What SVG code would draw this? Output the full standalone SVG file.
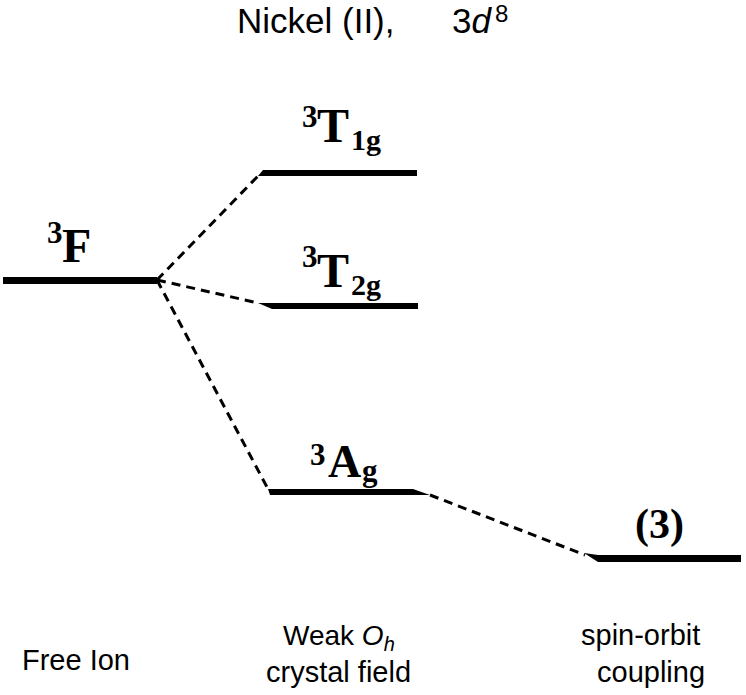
<svg xmlns="http://www.w3.org/2000/svg" width="746" height="695" viewBox="0 0 746 695">
<style>
.lvl{fill:#000;stroke:none}
.dash{stroke:#000;stroke-width:3;stroke-dasharray:9 6;fill:none}
.sans{font-family:"Liberation Sans",Arial,sans-serif;fill:#000}
.term{font-family:"Liberation Serif","Times New Roman",serif;font-weight:bold;fill:#000}
</style>
<rect width="746" height="695" fill="#fff"/>
<g id="title">
<text class="sans" x="237" y="33" font-size="35">Nickel (II),</text>
<text class="sans" x="452" y="33" font-size="35">3<tspan font-style="italic">d</tspan></text>
<text class="sans" x="495" y="22" font-size="24">8</text>
</g>
<g id="connectors">
<line class="dash" x1="157" y1="280" x2="258" y2="176"/>
<line class="dash" x1="157" y1="280" x2="258" y2="303"/>
<line class="dash" x1="157" y1="280" x2="268" y2="489"/>
<line class="dash" x1="430" y1="495" x2="585" y2="555"/>
</g>
<g id="level-3F">
<rect class="lvl" x="3" y="277" width="154" height="7"/>
<text class="term" x="47" y="243" font-size="31">3</text>
<text class="term" x="62" y="262" font-size="48">F</text>
</g>
<g id="level-3T1g">
<polygon class="lvl" points="258,176 263,170 417,170 417,176"/>
<text class="term" x="302" y="127" font-size="31">3</text>
<text class="term" x="317" y="142" font-size="48">T</text>
<text class="term" x="351" y="150" font-size="30">1g</text>
</g>
<g id="level-3T2g">
<polygon class="lvl" points="258,303 418,303 418,309 272,309"/>
<text class="term" x="302" y="267" font-size="31">3</text>
<text class="term" x="317" y="287" font-size="48">T</text>
<text class="term" x="351" y="295" font-size="30">2g</text>
</g>
<g id="level-3Ag">
<polygon class="lvl" points="268,489 413,489 430,495 270,495"/>
<text class="term" x="310" y="465" font-size="31">3</text>
<text class="term" x="328" y="477" font-size="46">A</text>
<text class="term" x="362" y="481" font-size="31">g</text>
</g>
<g id="level-3">
<polygon class="lvl" points="584,553 598,555 741,555 741,562 598,562"/>
<text class="term" x="635" y="538" font-size="42">(3)</text>
</g>
<g id="captions">
<text class="sans" x="22" y="670" font-size="29">Free Ion</text>
<text class="sans" x="283" y="645" font-size="28">Weak <tspan font-style="italic">O</tspan><tspan font-style="italic" font-size="20" dy="6">h</tspan></text>
<text class="sans" x="266" y="682" font-size="29">crystal field</text>
<text class="sans" x="581" y="645" font-size="29">spin-orbit</text>
<text class="sans" x="597" y="682" font-size="29">coupling</text>
</g>
</svg>
